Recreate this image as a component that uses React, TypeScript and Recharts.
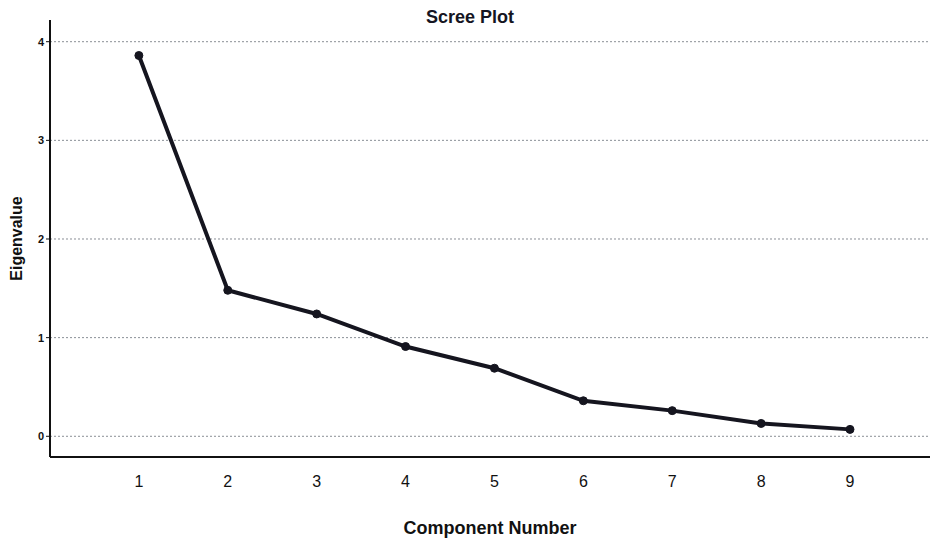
import { LineChart, Line, XAxis, YAxis, ReferenceLine, Label } from "recharts";

const components = [1, 2, 3, 4, 5, 6, 7, 8, 9];
const eigenvalues = [3.86, 1.48, 1.24, 0.91, 0.69, 0.36, 0.26, 0.13, 0.07];
const yTicks = [0, 1, 2, 3, 4];

const data = components.map((c, i) => ({ component: c, eigenvalue: eigenvalues[i] }));

const font = "'Liberation Sans', Arial, sans-serif";

export default function App() {
  return (
    <div style={{ position: "absolute", left: 0, top: 0, width: 931, height: 539, background: "#fff", fontFamily: font }}>
      <div
        style={{
          position: "absolute",
          top: 7,
          left: 0,
          width: 940,
          textAlign: "center",
          fontWeight: "bold",
          fontSize: 18,
          color: "#151522",
          zIndex: 1,
        }}
      >
        Scree Plot
      </div>
      <LineChart width={931} height={539} data={data} margin={{ top: 20, right: 1, left: 0, bottom: 0 }}>
        {/* dotted gridlines at each y tick */}
        {yTicks.map((t) => (
          <ReferenceLine key={t} y={t} stroke="#8a8f96" strokeDasharray="2 2" strokeWidth={1} />
        ))}
        <XAxis
          dataKey="component"
          type="number"
          domain={[0, 9.9]}
          ticks={components}
          height={82}
          tickLine={false}
          tickMargin={13}
          axisLine={{ stroke: "#111", strokeWidth: 2 }}
          tick={{ fill: "#111", fontSize: 16, fontFamily: font }}
        >
          <Label
            value="Component Number"
            position="insideBottom"
            offset={5}
            style={{ fill: "#111", fontSize: 18, fontWeight: "bold", fontFamily: font }}
          />
        </XAxis>
        <YAxis
          type="number"
          domain={[-0.21, 4.22]}
          ticks={yTicks}
          width={50}
          tickSize={4}
          tickMargin={2}
          axisLine={{ stroke: "#111", strokeWidth: 2 }}
          tickLine={{ stroke: "#111" }}
          tick={{ fill: "#111", fontSize: 11, fontWeight: "bold", fontFamily: font }}
        >
          <Label
            value="Eigenvalue"
            angle={-90}
            position="insideLeft"
            offset={16}
            style={{ fill: "#111", fontSize: 16, fontWeight: "bold", fontFamily: font, textAnchor: "middle" }}
          />
        </YAxis>
        <Line
          type="linear"
          dataKey="eigenvalue"
          stroke="#15151f"
          strokeWidth={4}
          dot={{ r: 4, fill: "#15151f", stroke: "#15151f", strokeWidth: 1 }}
          isAnimationActive={false}
        />
      </LineChart>
    </div>
  );
}
